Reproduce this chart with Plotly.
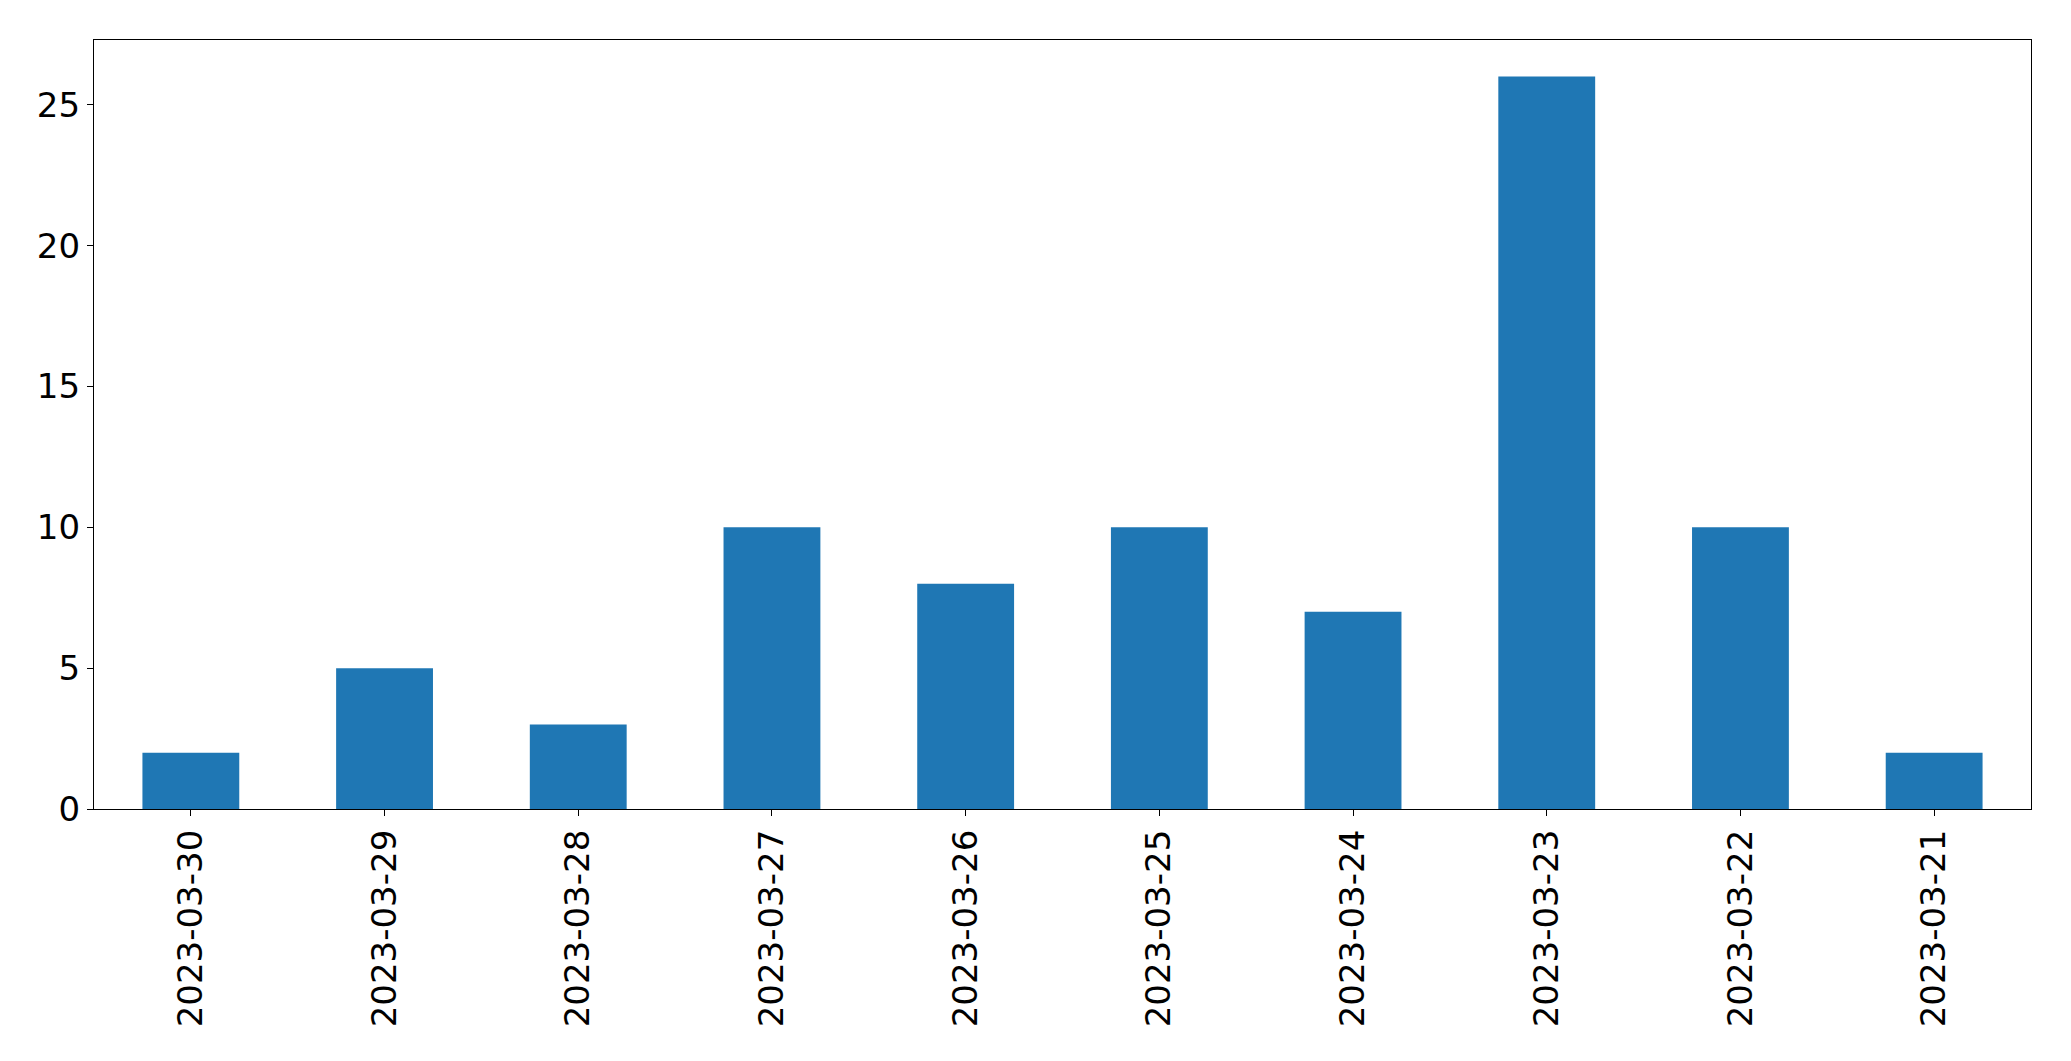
import plotly.graph_objects as go

dates = ["2023-03-30", "2023-03-29", "2023-03-28", "2023-03-27", "2023-03-26",
         "2023-03-25", "2023-03-24", "2023-03-23", "2023-03-22", "2023-03-21"]
counts = [2, 5, 3, 10, 8, 10, 7, 26, 10, 2]

fig = go.Figure(go.Bar(x=dates, y=counts, width=0.5, marker=dict(color="#1f77b4", line=dict(width=0))))

fig.update_layout(
    width=2071, height=1061,
    margin=dict(l=94, r=40, t=40, b=252, pad=0),
    plot_bgcolor="white", paper_bgcolor="white",
    font=dict(family="DejaVu Sans", size=34, color="black"),
    showlegend=False,
    bargap=0.5,
)
fig.update_xaxes(
    type="category", range=[-0.5, 9.5], tickangle=-90,
    showline=True, linecolor="black", linewidth=1.3, mirror=True,
    ticks="outside", ticklen=6, tickcolor="black", tickwidth=1.3,
    showgrid=False, zeroline=False, tickfont=dict(size=34),
)
fig.update_yaxes(
    range=[0, 27.3], tickvals=[0, 5, 10, 15, 20, 25],
    showline=True, linecolor="black", linewidth=1.3, mirror=True,
    ticks="outside", ticklen=6, tickcolor="black", tickwidth=1.3,
    showgrid=False, zeroline=False, tickfont=dict(size=34),
)

fig.write_html("out.html")
